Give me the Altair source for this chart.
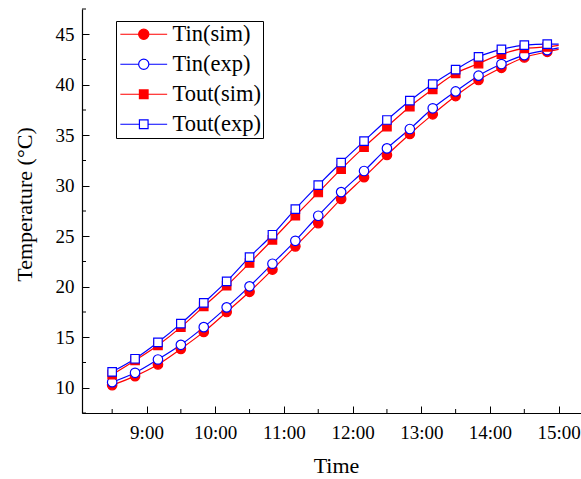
import altair as alt
import pandas as pd

# ---- data ----
times = ["8:30", "8:50", "9:10", "9:30", "9:50", "10:10", "10:30", "10:50", "11:10", "11:30",
         "11:50", "12:10", "12:30", "12:50", "13:10", "13:30", "13:50", "14:10", "14:30", "14:50"]
tin_sim = [10.26, 11.15, 12.30, 13.85, 15.53, 17.50, 19.50, 21.70, 24.00, 26.30,
           28.70, 30.85, 33.05, 35.13, 37.07, 38.88, 40.47, 41.68, 42.70, 43.26]
tin_exp = [10.55, 11.48, 12.80, 14.25, 16.00, 17.96, 20.04, 22.28, 24.55, 27.03,
           29.37, 31.46, 33.70, 35.62, 37.67, 39.34, 40.90, 42.05, 42.93, 43.43]
tout_sim = [11.30, 12.70, 14.20, 16.00, 18.06, 20.10, 22.35, 24.65, 27.03, 29.33,
            31.64, 33.82, 35.85, 37.83, 39.55, 41.13, 42.10, 43.03, 43.60, 43.75]
tout_exp = [11.58, 12.87, 14.50, 16.35, 18.40, 20.53, 22.94, 25.15, 27.69, 30.06,
            32.30, 34.42, 36.51, 38.42, 40.07, 41.50, 42.77, 43.50, 43.92, 44.02]
# lines continue (without marker) to 15:00
end_time = "15:00"
end_values = [43.50, 43.65, 43.90, 44.02]

series = ["Tin(sim)", "Tin(exp)", "Tout(sim)", "Tout(exp)"]
strokes = ["#ff0000", "#0000ff", "#ff0000", "#0000ff"]
fills = ["#ff0000", "#ffffff", "#ff0000", "#ffffff"]
marker_shapes = ["circle", "circle", "square", "square"]
marker_sizes = [90, 90, 72, 72]
# legend symbols: line segment + marker (custom paths)
legend_shapes = [
    "M-3.9,0H-0.85A0.85,0.85,0,1,1,0.85,0A0.85,0.85,0,1,1,-0.85,0M0.85,0H3.9",
    "M-3.9,0H-0.85A0.85,0.85,0,1,1,0.85,0A0.85,0.85,0,1,1,-0.85,0M0.85,0H3.9",
    "M-3.9,0H-0.72M-0.72,-0.72H0.72V0.72H-0.72ZM0.72,0H3.9",
    "M-3.9,0H-0.72M-0.72,-0.72H0.72V0.72H-0.72ZM0.72,0H3.9",
]
x_major = [9, 10, 11, 12, 13, 14, 15]
x_minor = [8.5, 9.5, 10.5, 11.5, 12.5, 13.5, 14.5]
y_major = [10, 15, 20, 25, 30, 35, 40, 45]
y_minor = [7.5, 12.5, 17.5, 22.5, 27.5, 32.5, 37.5, 42.5, 47.5]


def to_hours(s):
    h, m = s.split(":")
    return int(h) + int(m) / 60.0


values = [tin_sim, tin_exp, tout_sim, tout_exp]
rows = []
for i, name in enumerate(series):
    for t, v in zip(times, values[i]):
        rows.append({"series": name, "t": to_hours(t), "v": v})
pts = pd.DataFrame(rows)
line_rows = rows + [{"series": name, "t": to_hours(end_time), "v": end_values[i]}
                    for i, name in enumerate(series)]
lines = pd.DataFrame(line_rows)

FONT = "Liberation Serif"

xenc = alt.X("t:Q", scale=alt.Scale(domain=[8.061, 15.325], nice=False, zero=False),
             axis=alt.Axis(values=x_major, title="Time",
                           labelExpr="datum.value + ':00'",
                           ticks=False, labelPadding=25, labelBaseline="alphabetic",
                           grid=True, gridColor="black", gridOpacity=1, gridWidth=1,
                           gridDash=[0, 397, 7, 2000],
                           titleX=254, titleY=59, titleBaseline="alphabetic",
                           titleAlign="center"))
yenc = alt.Y("v:Q", scale=alt.Scale(domain=[7.5, 47.5], nice=False, zero=False),
             axis=alt.Axis(values=y_major, title="Temperature (°C)", format="d",
                           ticks=False, labelPadding=8,
                           grid=True, gridColor="black", gridOpacity=1, gridWidth=1,
                           gridDash=[7, 2000],
                           titleX=-58, titleY=195, titleBaseline="middle", titleAlign="center",
                           titleAngle=270))

legend_def = alt.Legend(title=None, orient="none", legendX=34, legendY=12,
                        strokeColor="black", padding=2, rowPadding=7,
                        symbolSize=144, symbolStrokeWidth=1.2, symbolOpacity=1,
                        symbolOffset=14.5, labelOffset=17.5,
                        labelFont=FONT, labelFontSize=22.5, labelColor="black", labelLimit=400)

# legend-only layer (first): its data is filtered out, the legend comes from the scale domains
legend_layer = alt.Chart(pts).transform_filter("false").mark_point(
    filled=True, size=144, opacity=1
).encode(
    x=xenc, y=yenc,
    shape=alt.Shape("series:N", scale=alt.Scale(domain=series, range=legend_shapes), legend=legend_def),
    fill=alt.Fill("series:N", scale=alt.Scale(domain=series, range=fills), legend=legend_def),
    stroke=alt.Stroke("series:N", scale=alt.Scale(domain=series, range=strokes), legend=legend_def),
)

layers = [legend_layer]

# minor ticks (inward), placed through the scales
layers.append(alt.Chart(pd.DataFrame({"m": x_minor})).mark_rule(color="black", strokeWidth=1).encode(
    x="m:Q", y=alt.value(404), y2=alt.value(400)))
layers.append(alt.Chart(pd.DataFrame({"m": y_minor})).mark_rule(color="black", strokeWidth=1).encode(
    y="m:Q", x=alt.value(0), x2=alt.value(4)))

for i, name in enumerate(series):
    layers.append(
        alt.Chart(lines).transform_filter(alt.datum.series == name)
        .mark_line(interpolate="monotone", strokeWidth=1.2, color=strokes[i])
        .encode(x="t:Q", y="v:Q")
    )
for i, name in enumerate(series):
    layers.append(
        alt.Chart(pts).transform_filter(alt.datum.series == name)
        .mark_point(shape=marker_shapes[i], size=marker_sizes[i], filled=True, opacity=1,
                    fill=fills[i], stroke=strokes[i], strokeWidth=1.2)
        .encode(x="t:Q", y="v:Q")
    )

chart = alt.layer(*layers).properties(
    width=499, height=404,
    background="white",
    autosize=alt.AutoSizeParams(type="none"),
    padding={"left": 82, "top": 9, "right": 0, "bottom": 66},
).configure_view(stroke=None).configure_axis(
    domainColor="black", domainWidth=1.2,
    labelFont=FONT, labelFontSize=19, labelColor="black",
    titleFont=FONT, titleFontSize=22, titleColor="black", titleFontWeight="normal",
)

chart.save("out.html", embed_options={"renderer": "svg", "actions": False})
